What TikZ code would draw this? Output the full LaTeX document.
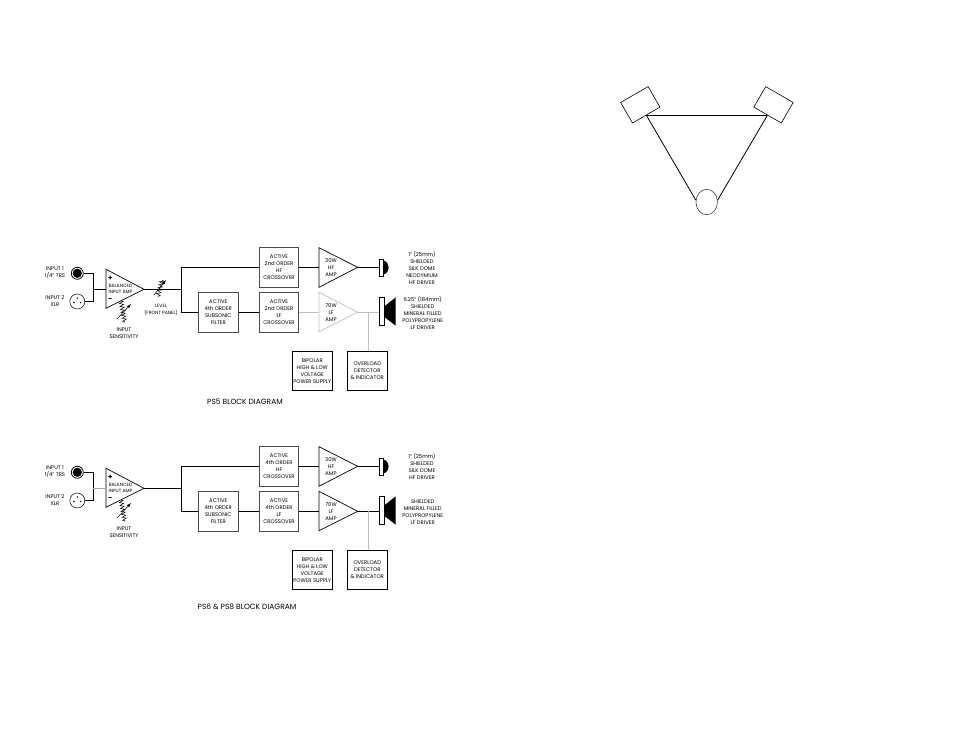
\documentclass[tikz,border=0pt]{standalone}
\usepackage{fontspec}
\setmainfont{Poppins}
\usetikzlibrary{shapes.geometric,decorations.pathmorphing}
\tikzset{
	wire/.style={line width=0.8pt},
	palewire/.style={line width=0.6pt,black!25},
	blockbox/.style={draw,line width=1pt,black!70,minimum width=39.5pt,minimum height=39.5pt,inner sep=0pt,text=black,font=\fontsize{5.3}{7}\selectfont,align=center},
	tiny/.style={inner sep=0pt,font=\fontsize{5.3}{7}\selectfont,align=center},
	tinier/.style={inner sep=0pt,font=\fontsize{4.6}{6.7}\selectfont,align=center},
	title/.style={inner sep=0pt,font=\fontsize{7.5}{8}\selectfont},
	amp/.style={line width=0.7pt},
	resistor/.style={line width=0.5pt,decorate,decoration={zigzag,segment length=3pt,amplitude=2pt}},
}
% one block diagram: #1 y offset, #2 prefix, #3 order, #4 HF driver text, #5 LF driver text,
% #6 title position, #7 title, #8 look of the LF amp and its wires, #9 look of the input wire
\newcommand{\blockdiagram}[9]{
	\begin{scope}[yshift=-#1pt]
		% inputs
		\node[draw,circle,line width=0.8pt,minimum size=12pt,inner sep=0pt](#2jack)at(77.3,273.3){};
		\fill(77.3,273.3)circle(4.6pt);
		\node[draw,circle,line width=0.5pt,minimum size=15pt,inner sep=0pt](#2xlr)at(77.3,301.5){};
		\fill(77.3,298)circle(0.8pt);
		\fill(74,302.5)circle(0.8pt);
		\fill(80.6,302.5)circle(0.8pt);
		\node[tiny](#2inA)at(55,272.8){INPUT 1\\1/4" TRS};
		\node[tiny](#2inB)at(55,301){INPUT 2\\XLR};
		% input amp
		\draw[amp](106,269.3)coordinate(#2ampA)--(144,289.3)coordinate(#2ampTip)--(106,308.3)--cycle;
		\coordinate(#2ampIn)at(106,289.3);
		\node[tinier](#2ampLabel)at(120.5,289){BALANCED\\INPUT AMP};
		\node[inner sep=0pt,font=\bfseries\fontsize{7}{7}\selectfont](#2plus)at(110.3,278){+};
		\node[inner sep=0pt,font=\bfseries\fontsize{7}{7}\selectfont](#2minus)at(110.3,300){-};
		\coordinate(#2join)at(93.3,289.3);
		\draw[wire](#2jack)--(93.3,273.3)--(93.3,301.5)--(#2xlr);
		\draw[wire,#9](#2join)--(#2ampIn);
		% sensitivity pot
		\coordinate(#2senseA)at(121,301);
		\coordinate(#2senseB)at(125,323);
		\draw[resistor](#2senseA)--(#2senseB);
		\draw[line width=0.5pt,-latex](117,319)--(131,304);
		\node[tiny](#2sense)at(124,333.2){INPUT\\SENSITIVITY};
		% blocks
		\node[blockbox](#2hfx)at(279,267.3){ACTIVE\\#3 ORDER\\HF\\CROSSOVER};
		\node[blockbox](#2lfx)at(279,312.3){ACTIVE\\#3 ORDER\\LF\\CROSSOVER};
		\node[blockbox](#2sub)at(218.3,312.3){ACTIVE\\4th ORDER\\SUBSONIC\\FILTER};
		\node[blockbox,draw=black](#2psu)at(312.3,371){BIPOLAR\\HIGH \& LOW\\VOLTAGE\\POWER SUPPLY};
		\node[blockbox,draw=black](#2ovl)at(367.3,371){OVERLOAD\\DETECTOR\\\& INDICATOR};
		% power amps
		\draw[amp](319,247.7)--(357.7,267.3)coordinate(#2hfTip)--(319,287.3)--cycle;
		\draw[amp,#8](319,292.3)--(357.7,312.3)coordinate(#2lfTip)--(319,331.7)--cycle;
		\coordinate(#2hfIn)at(319,267.3);
		\coordinate(#2lfIn)at(319,312.3);
		\node[tiny](#2hfAmp)at(331,267.5){30W\\HF\\AMP};
		\node[tiny](#2lfAmp)at(331,312.5){70W\\LF\\AMP};
		% drivers
		\draw[line width=0.6pt](379,259)rectangle(383.3,276.3);
		\coordinate(#2hfDrv)at(379,267.3);
		\fill(383.3,260.5)..controls(390.5,262)and(390.5,273)..(383.3,274.5)--cycle;
		\draw[line width=0.6pt](379,297.3)rectangle(384,325);
		\coordinate(#2lfDrv)at(379,312.3);
		\fill(384,306.7)--(395.7,297.3)--(395.7,325.7)--(384,316.7)--cycle;
		\node[tiny](#2hfText)at(422,267.8){#4};
		\node[tiny](#2lfText)at(422.7,313){#5};
		% wires
		\coordinate(#2fork)at(181.7,289.3);
		\draw[wire](#2ampTip)--(#2fork)|-(#2hfx);
		\draw[wire](#2fork)|-(#2sub);
		\draw[wire](#2sub)--(#2lfx);
		\draw[wire](#2hfx)--(#2hfIn);
		\draw[wire](#2hfTip)--(#2hfDrv);
		\draw[wire,#8](#2lfx)--(#2lfIn);
		\draw[wire,#8](#2lfTip)--(#2lfDrv);
		\coordinate(#2tap)at(368,312.3);
		\draw[palewire](#2tap)--(#2tap|-#2ovl.north);
		\node[title](#2title)at(#6){#7};
	\end{scope}
}
\begin{document}
\begin{tikzpicture}[x=1pt,y=-1pt]
	\useasboundingbox(0,0)rectangle(954,738);
	% listening triangle
	\node[draw,line width=0.6pt,rotate=30,minimum width=31.7pt,minimum height=23.7pt,inner sep=0pt](spkL)at(640.3,104.8){};
	\node[draw,line width=0.6pt,rotate=-30,minimum width=31.7pt,minimum height=23.7pt,inner sep=0pt](spkR)at(773.5,104.8){};
	\node[draw,ellipse,line width=0.6pt,black!75,minimum width=21.5pt,minimum height=25.5pt,inner sep=0pt](listener)at(706.7,202){};
	\draw[line width=0.8pt](spkL.south)--(spkR.south);
	\draw[line width=0.8pt](spkL.south)--(listener.170);
	\draw[line width=0.8pt](spkR.south)--(listener.10);
	% block diagrams
	\blockdiagram{0}{a}{2nd}{1" (25mm)\\SHIELDED\\SILK DOME\\NEODYMIUM\\HF DRIVER}{6.25" (184mm)\\SHIELDED\\MINERAL FILLED\\POLYPROPYLENE\\LF DRIVER}{245,401.7}{PS5 BLOCK DIAGRAM}{black!25}{black}
	\blockdiagram{199}{b}{4th}{1" (25mm)\\SHIELDED\\SILK DOME\\HF DRIVER}{SHIELDED\\MINERAL FILLED\\POLYPROPYLENE\\LF DRIVER}{247,407.7}{PS6 \& PS8 BLOCK DIAGRAM}{black}{black!35}
	% level pot, first diagram only
	\coordinate(levelA)at(162,280);
	\coordinate(levelB)at(158,297);
	\draw[resistor](levelA)--(levelB);
	\draw[line width=0.5pt,-latex](154,295)--(166,280);
	\node[tinier](level)at(161,310){LEVEL\\(FRONT PANEL)};
\end{tikzpicture}
\end{document}
